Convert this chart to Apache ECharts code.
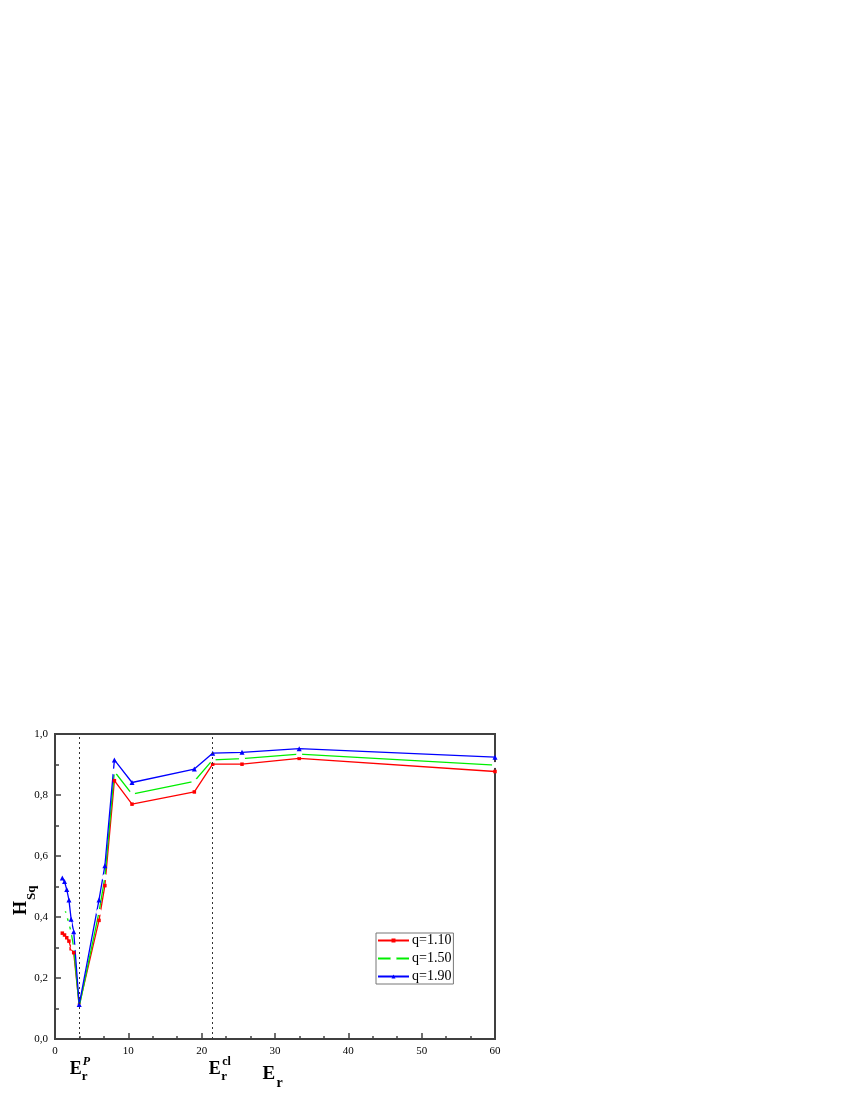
<!DOCTYPE html>
<html>
<head>
<meta charset="utf-8">
<script src="https://cdn.jsdelivr.net/npm/echarts@6/dist/echarts.min.js"></script>
<style>
html,body{margin:0;padding:0;background:#fff;}
#chart{width:850px;height:1100px;}
</style>
</head>
<body>
<div id="chart"></div>
<script>
// ---- data ----
const erValues = [1.0, 1.3, 1.6, 1.9, 2.2, 2.55, 3.3, 6.0, 6.8, 8.1, 10.5, 19.0, 21.5, 25.5, 33.3, 60];
const hq110 = [0.347, 0.341, 0.332, 0.321, 0.296, 0.283, 0.110, 0.389, 0.503, 0.847, 0.770, 0.810, 0.901, 0.901, 0.920, 0.877];
const hq150 = [0.438, 0.428, 0.405, 0.378, 0.350, 0.300, 0.105, 0.416, 0.530, 0.877, 0.803, 0.845, 0.915, 0.919, 0.934, 0.898];
const hq190 = [0.528, 0.516, 0.490, 0.456, 0.393, 0.352, 0.113, 0.456, 0.568, 0.915, 0.841, 0.885, 0.937, 0.940, 0.952, 0.924];
const seriesNames = ['q=1.10', 'q=1.50', 'q=1.90'];
const refLines = [3.3, 21.5]; // E_r^P and E_r^cl
const xTickInterval = 10;
const yTickInterval = 0.2;

const FONT = "'Liberation Serif','Times New Roman',serif";
const chart = echarts.init(document.getElementById('chart'), null, {renderer: 'canvas'});

function pairs(ys) { return erValues.map((x, i) => [x, ys[i]]); }

const axisColor = '#404040';
const option = {
  animation: false,
  backgroundColor: '#fff',
  grid: {left: 55, right: 355, top: 734, bottom: 61, show: true, borderColor: axisColor, borderWidth: 2, backgroundColor: 'transparent'},
  legend: {
    orient: 'vertical', left: 376, top: 933,
    itemWidth: 31, itemHeight: 5, itemGap: 3,
    padding: [0, 2, 0, 1],
    borderColor: '#777', borderWidth: 1,
    textStyle: {fontFamily: FONT, fontSize: 14, lineHeight: 15, color: '#000', padding: [0, 0, 0, -2]},
    data: [
      {name: seriesNames[0]},
      {name: seriesNames[1], itemStyle: {color: '#fff', borderColor: '#00ee00', borderWidth: 1}},
      {name: seriesNames[2]}
    ]
  },
  xAxis: {
    type: 'value', min: 0, max: 60, interval: xTickInterval,
    axisLine: {lineStyle: {color: axisColor, width: 2}},
    axisTick: {inside: true, length: 6, lineStyle: {color: axisColor, width: 1.5}},
    minorTick: {show: true, splitNumber: 3, length: 3, lineStyle: {color: axisColor, width: 1.5}},
    splitLine: {show: false},
    axisLabel: {fontFamily: FONT, fontSize: 11, color: '#000', margin: 7, formatter: v => String(v)}
  },
  yAxis: {
    type: 'value', min: 0, max: 1, interval: yTickInterval,
    axisLine: {lineStyle: {color: axisColor, width: 2}},
    axisTick: {inside: true, length: 6, lineStyle: {color: axisColor, width: 1.5}},
    minorTick: {show: true, splitNumber: 2, length: 4, lineStyle: {color: axisColor, width: 1.5}},
    splitLine: {show: false},
    axisLabel: {fontFamily: FONT, fontSize: 11, color: '#000', margin: 7, formatter: v => v.toFixed(1).replace('.', ',')}
  },
  series: [
    {
      name: seriesNames[0], type: 'line', data: pairs(hq110),
      symbol: 'rect', symbolSize: 3.5, color: '#ff0000',
      lineStyle: {width: 1.3, color: '#ff0000'},
      markLine: {
        silent: true, symbol: 'none', label: {show: false},
        lineStyle: {type: [2, 3], color: '#333', width: 1},
        data: refLines.map(v => ({xAxis: v}))
      }
    },
    {
      name: seriesNames[1], type: 'line', data: pairs(hq150),
      symbol: 'emptyCircle', symbolSize: 4, color: '#00ee00',
      itemStyle: {color: '#fff', borderColor: '#00ee00', borderWidth: 1},
      lineStyle: {width: 1.3, color: '#00ee00'}
    },
    {
      name: seriesNames[2], type: 'line', data: pairs(hq190),
      symbol: 'triangle', symbolSize: 5, color: '#0000ff',
      lineStyle: {width: 1.3, color: '#0000ff'}
    }
  ]
};
chart.setOption(option);

// ---- axis title / reference labels, anchored through the axis scales ----
function px(x, y) { return chart.convertToPixel({gridIndex: 0}, [x, y]); }
function txt(x, y, text, size, style) {
  return {
    type: 'text', x: x, y: y,
    style: {text: text, font: (style || 'bold') + ' ' + size + 'px ' + FONT, fill: '#000', align: 'left', verticalAlign: 'top'}
  };
}
const p0 = px(0, 0);
const pP = px(refLines[0], 0);
const pC = px(refLines[1], 0);
const pM = px(30, 0);
const baseY = p0[1];
const yH = px(0, 0.40)[1];

const graphics = [
  // E_r^P
  txt(pP[0] - 9.5, baseY + 21, 'E', 18),
  txt(pP[0] + 2.5, baseY + 31, 'r', 13),
  txt(pP[0] + 3.5, baseY + 17, 'P', 12, 'italic bold'),
  // E_r^cl
  txt(pC[0] - 3.8, baseY + 21, 'E', 18),
  txt(pC[0] + 8.5, baseY + 31, 'r', 13),
  txt(pC[0] + 9.5, baseY + 17, 'cl', 12),
  // axis title E_r
  txt(pM[0] - 12.5, baseY + 25.5, 'E', 19),
  txt(pM[0] + 1.5, baseY + 37, 'r', 14),
  // axis title H_Sq (rotated)
  {
    type: 'group', x: 12.5, y: yH - 2, rotation: Math.PI / 2,
    children: [
      txt(0, 0, 'H', 18),
      txt(15, 13, 'Sq', 13)
    ]
  }
];
chart.setOption({graphic: graphics});
</script>
</body>
</html>
